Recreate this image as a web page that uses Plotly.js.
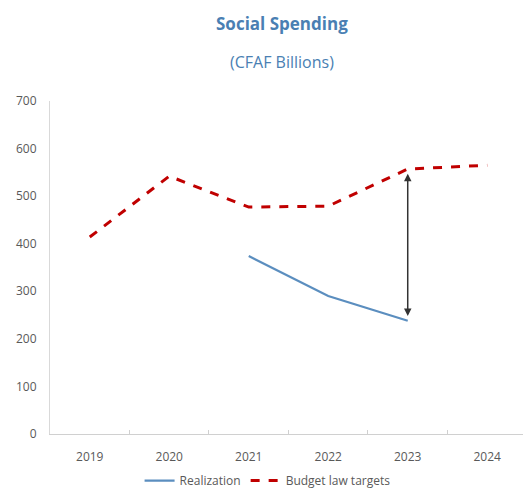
<!DOCTYPE html>
<html><head><meta charset="utf-8">
<script src="https://cdn.plot.ly/plotly-3.0.1.min.js"></script>
<style>html,body{margin:0;padding:0;background:#fff}#c{width:523px;height:493px}</style>
</head><body><div id="c"></div>
<script>
const years = ['2019','2020','2021','2022','2023','2024'];
const realization = [null, null, 374, 290, 238, null];
const budgetTargets = [414, 542, 477, 479, 557, 565];
const gapYearIndex = 4;
const gapLow = 248;
const gapHigh = 550;

const traces = [
  {x: years, y: realization, name: 'Realization', type: 'scatter', mode: 'lines',
   line: {color: '#5b8ebf', width: 2.2}, connectgaps: false},
  {x: years, y: budgetTargets, name: 'Budget law targets', type: 'scatter', mode: 'lines',
   line: {color: '#c00000', width: 3, dash: 'dash'}}
];
const layout = {
  width: 523, height: 493,
  margin: {l: 50, r: 0, t: 101, b: 59, autoexpand: false},
  paper_bgcolor: '#fff', plot_bgcolor: '#fff',
  font: {family: 'Open Sans, sans-serif', color: '#595959', size: 12},
  showlegend: true,
  legend: {orientation: 'h', x: 0.46, xanchor: 'center', y: -0.14, yanchor: 'middle',
           font: {size: 12, color: '#595959'}, itemwidth: 30, tracegroupgap: 0},
  xaxis: {type: 'category', range: [-0.5, 5.45], tickson: 'boundaries', ticks: 'inside', ticklen: 4,
          tickcolor: '#d0d0d0', showline: true, linecolor: '#d0d0d0', linewidth: 1,
          showgrid: false, zeroline: false, tickfont: {size: 12, color: '#595959'},
          ticklabelstandoff: 12},
  yaxis: {range: [0, 700], dtick: 100, showline: true, linecolor: '#d9d9d9', linewidth: 1,
          showgrid: false, zeroline: false, ticks: '', tickfont: {size: 12, color: '#595959'},
          ticklabelstandoff: 10},
  annotations: [
    {text: '<b>Social Spending</b>', xref: 'paper', yref: 'paper', x: 0.49, y: 1, xanchor: 'center',
     yanchor: 'bottom', yshift: 64, showarrow: false, font: {size: 17, color: '#4a7fb3'}},
    {text: '(CFAF Billions)', xref: 'paper', yref: 'paper', x: 0.49, y: 1, xanchor: 'center',
     yanchor: 'bottom', yshift: 26, showarrow: false, font: {size: 16, color: '#4a7fb3'}},
    {x: gapYearIndex, y: gapLow, ax: gapYearIndex, ay: gapHigh, xref: 'x', yref: 'y', axref: 'x', ayref: 'y',
     showarrow: true, arrowhead: 2, startarrowhead: 2, arrowside: 'end+start', arrowsize: 1,
     startarrowsize: 1, arrowwidth: 1.5, arrowcolor: '#333', text: ''}
  ]
};
Plotly.newPlot('c', traces, layout, {displayModeBar: false, staticPlot: true});
</script></body></html>
